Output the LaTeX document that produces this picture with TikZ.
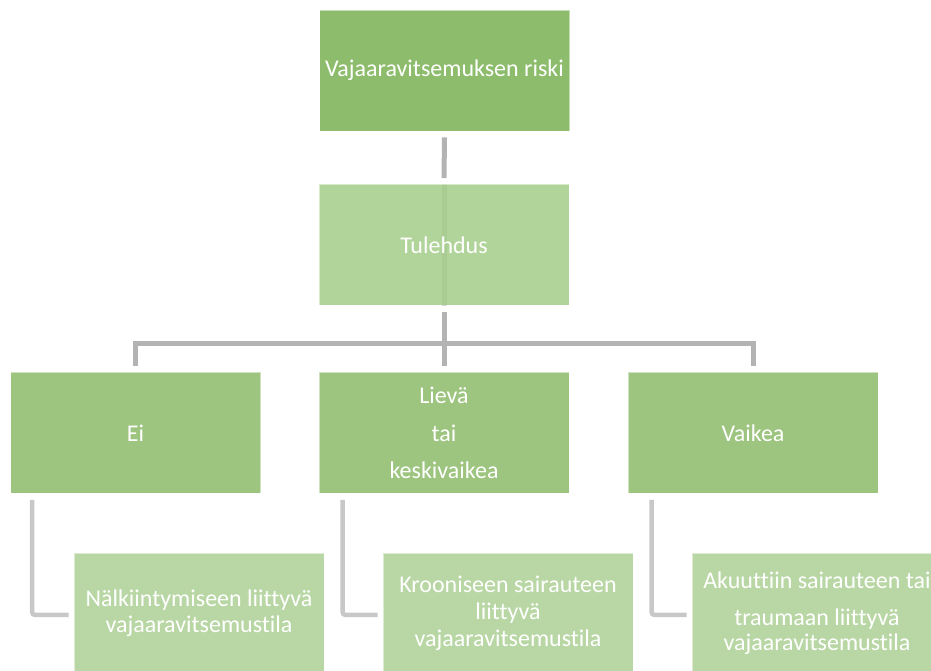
\documentclass[tikz,border=0pt]{standalone}
\usepackage{fontspec}
\setmainfont{Carlito}[Ligatures=NoCommon]
\usetikzlibrary{backgrounds}
\definecolor{rrgreen}{HTML}{8DBD6C}
\definecolor{ttgreen}{HTML}{A9CF8F}
\definecolor{aagreen}{HTML}{9DC57F}
\definecolor{ccgreen}{HTML}{B9D7A5}
\definecolor{lkgray}{HTML}{B3B3B3}
\definecolor{lcgray}{HTML}{C8C8C8}
\begin{document}
\begin{tikzpicture}[
	x=1pt, y=1pt,
	font=\fontsize{24}{29}\selectfont,
	box/.style={rectangle,minimum width=250pt,minimum height=121pt,inner sep=0pt,
		align=center,text=white,draw=white,draw opacity=0.5,line width=0.8pt},
	rr/.style={box,fill=rrgreen},
	tt/.style={box,fill=ttgreen,fill opacity=0.9,text opacity=1},
	aa/.style={box,fill=aagreen},
	cc/.style={box,fill=ccgreen},
	lk/.style={draw=lkgray,line width=5pt},
	lc/.style={draw=lcgray,line width=4.5pt,rounded corners=3pt},
	]
\useasboundingbox (0,0) rectangle (931,671);
\clip (0,0) rectangle (931,671);
% levels
\node [rr] (riski) at (444.5,600.5) {Vajaaravitsemuksen riski};
\node [tt] (tulehdus) at (444,426) {Tulehdus};
\coordinate (bar) at (444,327);
\node [aa] (ei) at (135.5,238) {Ei};
\node [aa,font=\fontsize{24}{37.5}\selectfont] (lieva) at (444,238) {Lievä\\tai\\keskivaikea};
\node [aa] (vaikea) at (753,238) {Vaikea};
\node [cc,font=\fontsize{24}{26}\selectfont] (nalka) at (199,57.5)
	{Nälkiintymiseen liittyvä\\vajaaravitsemustila};
\node [cc,font=\fontsize{24}{27}\selectfont] (krooninen) at (508,57.5)
	{Krooniseen sairauteen\\liittyvä\\vajaaravitsemustila};
\node [cc,font=\fontsize{24}{25}\selectfont] (akuutti) at (817,57.5)
	{Akuuttiin sairauteen tai\\[12pt]traumaan liittyvä\\vajaaravitsemustila};
% connectors
\begin{scope}[on background layer]
	\draw [lk] ([yshift=-6pt]riski.south) -- ([yshift=6pt]tulehdus.north);
	\draw [lk] (tulehdus.north) -- (tulehdus.south);
	\draw [lk] ([yshift=-6pt]tulehdus.south) -- (bar);
	\draw [lk] ([yshift=6pt]ei.north) -- (ei.north |- bar) -- (vaikea.north |- bar)
		-- ([yshift=6pt]vaikea.north);
	\draw [lk] (bar) -- ([yshift=6pt]lieva.north);
	\draw [lc] ([xshift=22pt,yshift=-6pt]ei.south west) |- ([xshift=-5pt,yshift=-1.5pt]nalka.west);
	\draw [lc] ([xshift=24pt,yshift=-6pt]lieva.south west) |- ([xshift=-5pt,yshift=-1.5pt]krooninen.west);
	\draw [lc] ([xshift=24pt,yshift=-6pt]vaikea.south west) |- ([xshift=-5pt,yshift=-1.5pt]akuutti.west);
\end{scope}
\end{tikzpicture}
\end{document}
